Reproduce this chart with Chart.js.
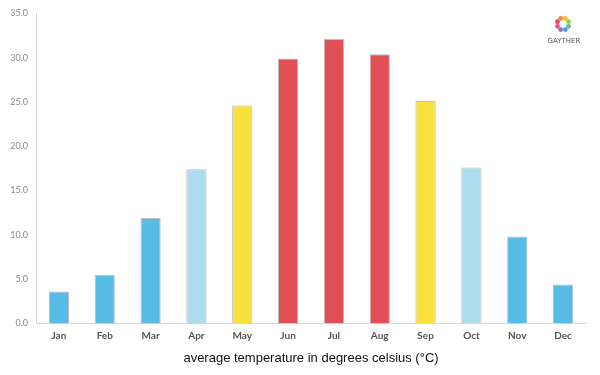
<!DOCTYPE html>
<html>
<head>
<meta charset="utf-8">
<script src="https://cdn.jsdelivr.net/npm/chart.js@4"></script>
<style>
  html, body { margin:0; padding:0; background:#fff; }
  .wrap { width:600px; height:375px; position:relative; }
</style>
</head>
<body>
<div class="wrap"><canvas id="tempChart"></canvas></div>
<script>
// Data
const months = ['Jan','Feb','Mar','Apr','May','Jun','Jul','Aug','Sep','Oct','Nov','Dec'];
const avgTemps = [3.6, 5.5, 11.9, 17.4, 24.6, 29.9, 32.1, 30.4, 25.1, 17.6, 9.8, 4.4];
const barColors = ['#56bce6','#56bce6','#56bce6','#aedcef','#f9e03f','#e04e56',
                   '#e04e56','#e04e56','#f9e03f','#aedcef','#56bce6','#56bce6'];
const axisTitle = 'average temperature in degrees celsius (°C)';

// little logo top right
const logoPlugin = {
  id: 'logo',
  afterDraw(chart) {
    const ctx = chart.ctx;
    const cx = 563, cy = 24;
    const petals = ['#f2c12e','#9bcf3a','#5fb7a6','#4b9fd8','#8a6fc9','#e0539b','#ec4a4a','#f08a3a'];
    ctx.save();
    petals.forEach((c, i) => {
      const a = -Math.PI/2 + i * Math.PI/4 + Math.PI/8;
      ctx.fillStyle = c;
      ctx.beginPath();
      ctx.arc(cx + Math.cos(a)*6, cy + Math.sin(a)*6, 2.4, 0, Math.PI*2);
      ctx.fill();
    });
    ctx.fillStyle = '#555';
    ctx.font = '7px "DejaVu Sans"';
    ctx.textAlign = 'center';
    ctx.textBaseline = 'middle';
    ctx.fillText('GAYTHER', cx + 1, 41);
    ctx.restore();
  }
};

new Chart(document.getElementById('tempChart'), {
  type: 'bar',
  data: {
    labels: months,
    datasets: [{
      data: avgTemps,
      backgroundColor: barColors,
      borderColor: '#bdbdbd',
      borderWidth: 1,
      categoryPercentage: 0.9,
      barPercentage: 0.49
    }]
  },
  options: {
    responsive: true, maintainAspectRatio: false,
    animation: false,
    layout: { padding: { top: 9, right: 14, bottom: 5, left: 0 } },
    plugins: { legend: { display: false }, tooltip: { enabled: false } },
    scales: {
      x: {
        grid: { display: false, drawTicks: false },
        border: { color: '#d6d6d6', width: 1 },
        ticks: { color: '#555', padding: 6, font: { family: 'Lato', size: 10, weight: 'bold' } },
        title: {
          display: true, text: axisTitle, color: '#111',
          font: { family: 'Liberation Sans', size: 13 }, padding: { top: 3 }
        }
      },
      y: {
        min: 0, max: 35,
        grid: { display: false, drawTicks: false },
        border: { color: '#d6d6d6', width: 1 },
        ticks: {
          stepSize: 5, color: '#888', padding: 8,
          font: { family: 'Lato', size: 9 },
          callback: v => v.toFixed(1)
        },
        afterFit: s => { s.width = 36; }
      }
    }
  },
  plugins: [logoPlugin]
});
</script>
</body>
</html>
